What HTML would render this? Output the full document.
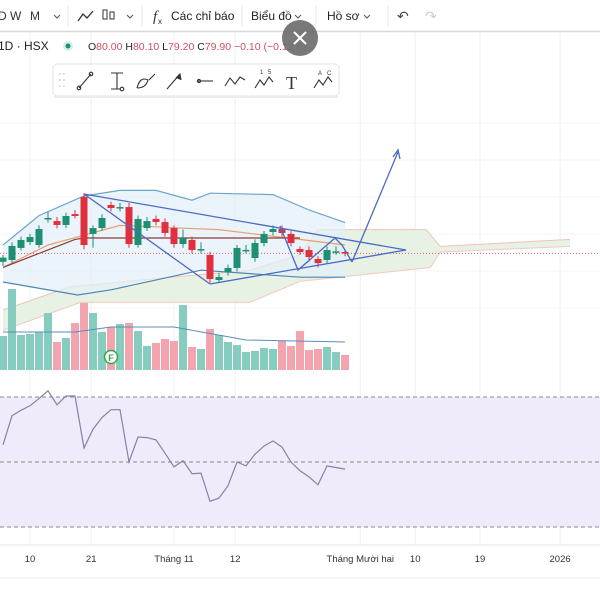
<!DOCTYPE html>
<html><head><meta charset="utf-8"><style>
html,body{margin:0;padding:0;background:#fff;width:600px;height:600px;overflow:hidden;font-family:"Liberation Sans","Noto Sans CJK SC",sans-serif}
svg{position:absolute;left:0;top:0}
</style></head><body>
<svg id="c" width="600" height="600" xmlns="http://www.w3.org/2000/svg"></svg>
<script>
// ---- data ----
const opens  = [79.3,79.43,80.29,80.71,80.5,82.36,82.21,81.93,82.71,83.93,81.29,81.71,83.36,83.14,83.21,80.5,81.71,82.36,82.14,81.71,80.57,80.86,80.2,79.79,78.0,78.57,78.86,80.14,79.57,80.64,81.43,81.64,81.29,80.21,80.14,79.5,79.43,80.0,80.0];
const closes = [79.6,80.43,80.86,81.07,81.64,82.43,81.93,82.57,82.57,80.5,81.71,82.43,83.14,83.21,80.57,82.36,82.21,82.14,81.36,80.57,81.0,80.14,80.21,78.07,78.21,78.86,80.29,80.15,80.64,81.29,81.64,81.36,80.64,80.0,79.64,79.21,80.14,80.05,79.9];
const highs  = [79.8,80.7,81.1,81.3,81.9,82.9,82.5,82.8,83.0,84.2,81.9,82.7,83.6,83.5,83.5,82.6,82.5,82.6,82.4,81.9,81.6,81.1,80.7,80.0,78.5,79.1,80.5,80.5,80.9,81.5,81.9,81.9,81.5,80.4,80.4,79.7,80.4,80.4,80.2];
const lows   = [79.0,79.2,80.1,80.5,80.3,82.1,81.7,81.7,82.4,80.2,80.3,81.5,82.9,82.9,80.3,80.3,81.5,81.9,81.1,80.3,80.3,79.9,79.9,77.8,77.8,78.3,78.6,79.9,79.3,80.4,81.2,81.1,80.4,79.8,79.3,78.9,79.2,79.8,79.7];
const volumes= [34,81,35,36,38,57,28,32,47,67,57,38,43,46,47,39,24,27,31,29,65,23,21,41,35,28,25,18,19,22,21,29,24,39,20,21,23,18,15];
const rsi    = [55.3,64.2,65.9,67.3,69.5,71.9,67.6,70.3,70.3,54.3,60.1,63.7,66.1,66.1,50.0,57.7,57.5,56.8,52.7,48.5,50.4,46.4,46.6,37.9,38.9,42.7,50.0,48.8,52.4,54.9,56.5,54.6,50.0,47.3,45.4,43.0,48.8,48.3,47.8];
const xTickLabels = ["10","21","Tháng 11","12","Tháng Mười hai","10","19","2026"];
const xTickIdx    = [3,9.8,19,25.8,39.7,45.8,53,61.9];
// indicator lines (price units at bar index)
const bbUpperIdx=[0,4,9,13,17,21,23,30,34,38], bbUpper=[80.5,82.6,84.0,84.4,84.4,83.7,84.2,84.1,83.0,82.1];
const bbLowerIdx=[0,8.3,12,22,33,38], bbLower=[77.86,76.93,77.3,78.7,78.2,78.2];
const midIdx=[0,5,9,13,17,20,24,29,33,38], mid=[78.9,80.5,81.2,81.9,81.8,81.7,81.6,81.2,80.9,80.5];
const tenkanIdx=[0,4,8,9,33], tenkan=[78.9,79.9,80.9,81.0,81.0];
const cloudTopIdx=[0,7.4,18.6,27.4,33,35,47,48.6,63];
const cloudTop=[75.86,77.5,78.2,78.7,79.8,81.6,81.6,80.4,80.9];
const cloudBotIdx=[0,8.6,27.4,33,47.5,48.6,63];
const cloudBot=[74.4,76.4,76.4,77.9,78.9,80.0,80.4];
const volMaIdx=[0,8,12,19,27,38], volMa=[38,38,43,43,30,28];

// ---- axes ----
const X=i=>3+i*9;
const Y=p=>252-(p-80)*14;
const VY=v=>370-v;
const RY=r=>397+(70-r)*130/40;
const NS="http://www.w3.org/2000/svg";
const svg=document.getElementById('c');
function mk(tag,attrs,parent){const e=document.createElementNS(NS,tag);for(const k in attrs)e.setAttribute(k,attrs[k]);(parent||svg).appendChild(e);return e;}
function txt(s,x,y,attrs,parent){const e=mk('text',Object.assign({x:x,y:y},attrs||{}),parent);e.textContent=s;return e;}
function pts(idx,vals,fy){return idx.map((i,k)=>X(i).toFixed(1)+','+fy(vals[k]).toFixed(1)).join(' ');}
function rev(a){return a.slice().reverse();}

// grid
const grid=mk('g',{});


xTickIdx.forEach(i=>mk('line',{x1:X(i),x2:X(i),y1:32,y2:545,stroke:'#eef0f3','stroke-width':1},grid));
[123,160,197,234,271,308].forEach(y=>mk('line',{x1:0,x2:600,y1:y,y2:y,stroke:'#f3f4f6','stroke-width':1},grid));

// cloud
const cloud=mk('polygon',{points:pts(cloudTopIdx,cloudTop,Y)+' '+pts(rev(cloudBotIdx),rev(cloudBot),Y),fill:'#e4f1e2',opacity:0.9});


mk('polyline',{points:pts(cloudTopIdx,cloudTop,Y),fill:'none',stroke:'#f0c2b8','stroke-width':1});
mk('polyline',{points:pts(cloudBotIdx,cloudBot,Y),fill:'none',stroke:'#f3c9c0','stroke-width':1});

// bollinger
const bbf=mk('polygon',{points:pts(bbUpperIdx,bbUpper,Y)+' '+pts(rev(bbLowerIdx),rev(bbLower),Y),fill:'#e2f0f8',opacity:0.7});


const bu=mk('polyline',{points:pts(bbUpperIdx,bbUpper,Y),fill:'none',stroke:'#6aa6c8','stroke-width':1.2});


const bl=mk('polyline',{points:pts(bbLowerIdx,bbLower,Y),fill:'none',stroke:'#4f86b0','stroke-width':1.2});


const ml=mk('polyline',{points:pts(midIdx,mid,Y),fill:'none',stroke:'#e8a070','stroke-width':1.2});


const tk=mk('polyline',{points:pts(tenkanIdx,tenkan,Y),fill:'none',stroke:'#8a3a3a','stroke-width':1.2});



// last price dotted line
const lp=mk('line',{x1:0,x2:600,y1:Y(closes[closes.length-1]),y2:Y(closes[closes.length-1]),stroke:'#e06070','stroke-width':1,'stroke-dasharray':'1,2'});



// volume bars
volumes.forEach((v,i)=>{
  const up=closes[i]>=opens[i];
  const r=mk('rect',{x:X(i)-4,y:VY(v),width:8,height:v,fill:up?'#86cdbf':'#f3a4ae'});
  
  
});
const vm=mk('polyline',{points:pts(volMaIdx,volMa,VY),fill:'none',stroke:'#5a8cc0','stroke-width':1});



// candles
opens.forEach((o,i)=>{
  const c=closes[i],up=c>=o,col=up?'#1e8f73':'#e0303f';
  const g=mk('g',{});
  
  
  mk('line',{x1:X(i),x2:X(i),y1:Y(highs[i]),y2:Y(lows[i]),stroke:col,'stroke-width':1},g);
  const top=Math.min(Y(o),Y(c)),h=Math.max(1.5,Math.abs(Y(o)-Y(c)));
  mk('rect',{x:X(i)-3.5,y:top,width:7,height:h,fill:col},g);
});

// trend drawings
const dr=mk('g',{fill:'none',stroke:'#4a6bc4','stroke-width':1.3});


mk('line',{x1:84,y1:194,x2:406,y2:250},dr);
mk('line',{x1:84,y1:194,x2:210,y2:284},dr);
mk('line',{x1:210,y1:284,x2:406,y2:250},dr);
mk('polyline',{points:'280,226 298,270 335,238 342,245 352,262'},dr);
mk('path',{d:'M352,262 L398,152'},dr);
mk('polyline',{points:'393,157 398,150 400,159'},dr);

// F marker
const fm=mk('g',{});


mk('circle',{cx:111,cy:357,r:6.5,fill:'#fff',stroke:'#2ea84a','stroke-width':1.5},fm);
txt('F',111,361,{'font-size':9,'text-anchor':'middle',fill:'#2ea84a','font-weight':'bold'},fm);

// RSI panel
const rp=mk('rect',{x:0,y:RY(70),width:600,height:RY(30)-RY(70),fill:'#efebfa'});


[70,50,30].forEach(v=>mk('line',{x1:0,x2:600,y1:RY(v),y2:RY(v),stroke:'#888','stroke-width':1,'stroke-dasharray':'4,3'}));
const rl=mk('polyline',{points:rsi.map((r,i)=>X(i)+','+RY(r).toFixed(1)).join(' '),fill:'none',stroke:'#8a7fa8','stroke-width':1.2});



// x axis
mk('line',{x1:0,x2:600,y1:545,y2:545,stroke:'#e6e6e6'});
xTickLabels.forEach((s,k)=>{
  const t=txt(s,X(xTickIdx[k]),562,{'font-size':9.5,'text-anchor':'middle',fill:'#333'});
  
  
});
mk('line',{x1:0,x2:600,y1:578,y2:578,stroke:'#eee'});

// header toolbar
mk('rect',{x:0,y:0,width:600,height:31,fill:'#fff'});
mk('line',{x1:0,x2:600,y1:31.5,y2:31.5,stroke:'#d8d8d8','stroke-width':1.5});
[["D",-2],["W",10],["M",30]].forEach(h=>{const t=txt(h[0],h[1],20,{'font-size':12,fill:'#333'});});
[57,130,298,367].forEach(x=>mk('polyline',{points:(x-3)+',15 '+x+',18 '+(x+3)+',15',fill:'none',stroke:'#555','stroke-width':1}));
[68,142,242,316,388].forEach(x=>mk('line',{x1:x,x2:x,y1:6,y2:26,stroke:'#e5e5e5'}));
mk('polyline',{points:'78,21 83,14 87,18 93,11',fill:'none',stroke:'#333','stroke-width':1.3});
mk('rect',{x:103,y:10,width:4,height:9,fill:'none',stroke:'#333'});
mk('rect',{x:110,y:12,width:4,height:7,fill:'none',stroke:'#333'});
txt('f',153,21,{'font-size':15,'font-style':'italic',fill:'#333','font-family':'Liberation Serif'});
txt('x',158,24,{'font-size':8,fill:'#333'});
const ind=txt('Các chỉ báo',171,20,{'font-size':12,fill:'#222'});


const bd=txt('Biểu đồ',251,20,{'font-size':12,fill:'#222'});


const hs=txt('Hồ sơ',327,20,{'font-size':12,fill:'#222'});


const un=txt('↶',397,21,{'font-size':14,fill:'#444'});


const re=txt('↷',425,21,{'font-size':14,fill:'#ccc'});



// symbol info
const sym=txt('1D · HSX',-2,50,{'font-size':12,fill:'#222'});


mk('circle',{cx:68,cy:46,r:5,fill:'#d5efe8'});
mk('circle',{cx:68,cy:46,r:2.5,fill:'#1e8f73'});
const ohlc=mk('text',{x:88,y:50,'font-size':10.5,fill:'#d05060'});


[['O','#222'],['80.00 ','#d05060'],['H','#222'],['80.10 ','#d05060'],['L','#222'],['79.20 ','#d05060'],['C','#222'],['79.90 ','#d05060'],['−0.10 (−0.12%)','#d05060']].forEach(p=>{const s=mk('tspan',{fill:p[1]},ohlc);s.textContent=p[0];});

// close button
const cb=mk('g',{});


mk('circle',{cx:300,cy:38,r:18,fill:'#6e6e6e',opacity:0.92},cb);
mk('path',{d:'M294,32 L306,44 M306,32 L294,44',stroke:'#fff','stroke-width':2},cb);

// drawing toolbar
const tb=mk('g',{});


mk('rect',{x:53,y:64,width:286,height:32,rx:4,fill:'#fff',stroke:'#e0e0e0'},tb);
mk('rect',{x:54,y:96,width:284,height:2,fill:'#ececec'},tb);
[[60,74],[60,80],[60,86],[64,74],[64,80],[64,86]].forEach(p=>mk('circle',{cx:p[0],cy:p[1],r:0.8,fill:'#bbb'},tb));
const ic=mk('g',{fill:'none',stroke:'#333','stroke-width':1.1},tb);
mk('path',{d:'M79,88 L91,74'},ic);mk('circle',{cx:79,cy:88,r:1.8},ic);mk('circle',{cx:91,cy:74,r:1.8},ic);
mk('path',{d:'M111,73 H123 M117,73 V89 M111,89 H120'},ic);mk('circle',{cx:122,cy:89,r:1.8},ic);
mk('path',{d:'M137,88 Q140,76 148,80 Q146,88 137,88 M149,80 L155,74'},ic);
mk('path',{d:'M167,89 L180,74'},ic);mk('path',{d:'M176,78 L180,74 L181,80',fill:'#333'},ic);
mk('path',{d:'M197,81 H213'},ic);mk('circle',{cx:199,cy:81,r:1.6},ic);
mk('path',{d:'M225,86 L230,78 L235,84 L240,77 L245,80'},ic);
mk('path',{d:'M255,88 L260,80 L264,85 L269,77 L273,82'},ic);
txt('1',260,74,{'font-size':6,fill:'#333'},tb);txt('5',268,74,{'font-size':6,fill:'#333'},tb);
txt('T',286,89,{'font-size':18,fill:'#333','font-family':'Liberation Serif'},tb);
mk('path',{d:'M314,88 L319,80 L323,85 L328,77 L332,82'},ic);
txt('A',318,75,{'font-size':6,fill:'#333'},tb);txt('C',327,75,{'font-size':6,fill:'#333'},tb);
</script>
</body></html>
